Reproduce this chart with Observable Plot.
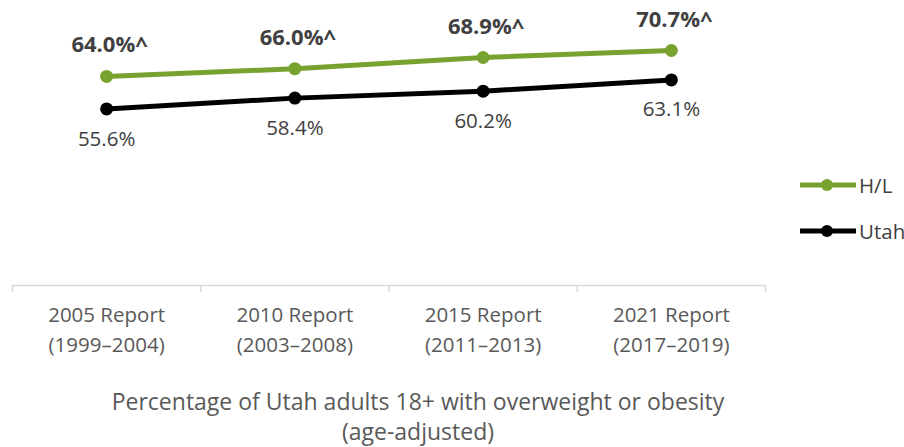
<!DOCTYPE html>
<html>
<head>
<meta charset="utf-8">
<script src="https://cdn.jsdelivr.net/npm/d3@7"></script>
<script src="https://cdn.jsdelivr.net/npm/@observablehq/plot@0.6"></script>
<style>
  body { margin: 0; background: #fff; font-family: "Open Sans", sans-serif; }
  #wrap { position: relative; width: 904px; height: 447px; }
  #caption { position: absolute; left: 0; top: 386px; width: 836px; text-align: center;
    font-size: 23px; line-height: 30px; color: #595959; }
  .leg { position: absolute; left: 800px; display: flex; align-items: center; font-size: 20.5px; color: #404040; }
</style>
</head>
<body>
<div id="wrap">
  <div id="chart"></div>
  <div id="legend"></div>
  <div id="caption">Percentage of Utah adults 18+ with overweight or obesity<br>(age-adjusted)</div>
</div>
<script>
const categories = ["2005 Report\n(1999–2004)", "2010 Report\n(2003–2008)", "2015 Report\n(2011–2013)", "2021 Report\n(2017–2019)"];
const seriesNames = ["H/L", "Utah"];
const hlValues = [64.0, 66.0, 68.9, 70.7];
const hlLabels = ["64.0%^", "66.0%^", "68.9%^", "70.7%^"];
const utahValues = [55.6, 58.4, 60.2, 63.1];
const utahLabels = ["55.6%", "58.4%", "60.2%", "63.1%"];
const colors = {"H/L": "#78A22F", "Utah": "#000000"};

const hl = categories.map((c, i) => ({pos: i + 0.5, value: hlValues[i], label: hlLabels[i], series: "H/L"}));
const ut = categories.map((c, i) => ({pos: i + 0.5, value: utahValues[i], label: utahLabels[i], series: "Utah"}));
const cats = categories.map((c, i) => ({pos: i + 0.5, text: c}));

const font = "'Open Sans', sans-serif";
const plot = Plot.plot({
  width: 904,
  height: 370,
  marginLeft: 12,
  marginRight: 139,
  marginTop: 14,
  marginBottom: 85,
  style: {fontFamily: font, background: "white"},
  x: {domain: [0, 4], axis: null},
  y: {domain: [10, 80], axis: null},
  marks: [
    Plot.ruleY([10], {stroke: "#d9d9d9", strokeWidth: 1.5}),
    Plot.axisX([0, 1, 2, 3, 4], {tickSize: 7, tickFormat: () => "", label: null, stroke: "#d9d9d9", strokeWidth: 1.5, anchor: "bottom"}),
    Plot.text(cats, {x: "pos", text: "text", frameAnchor: "bottom", lineAnchor: "top", dy: 15, lineHeight: 1.48, fontSize: 20.5, fill: "#595959"}),
    Plot.line(ut, {x: "pos", y: "value", stroke: colors["Utah"], strokeWidth: 5}),
    Plot.dot(ut, {x: "pos", y: "value", r: 6.5, fill: colors["Utah"]}),
    Plot.line(hl, {x: "pos", y: "value", stroke: colors["H/L"], strokeWidth: 5}),
    Plot.dot(hl, {x: "pos", y: "value", r: 6.5, fill: colors["H/L"]}),
    Plot.text(hl, {x: "pos", y: "value", text: "label", dy: -31, dx: 3, fontSize: 22, fontWeight: "bold", fill: "#404040"}),
    Plot.text(ut, {x: "pos", y: "value", text: "label", dy: 30, fontSize: 20.5, fill: "#404040"})
  ]
});
document.getElementById("chart").appendChild(plot);

const legend = document.getElementById("legend");
seriesNames.forEach((name, i) => {
  const d = document.createElement("div");
  d.className = "leg";
  d.style.top = (171 + i * 46) + "px";
  d.innerHTML = `<svg width="56" height="26"><line x1="0" x2="56" y1="13" y2="13" stroke="${colors[name]}" stroke-width="5"/><circle cx="27" cy="13" r="6" fill="${colors[name]}"/></svg><span style="margin-left:3px">${name}</span>`;
  legend.appendChild(d);
});
</script>
</body>
</html>
